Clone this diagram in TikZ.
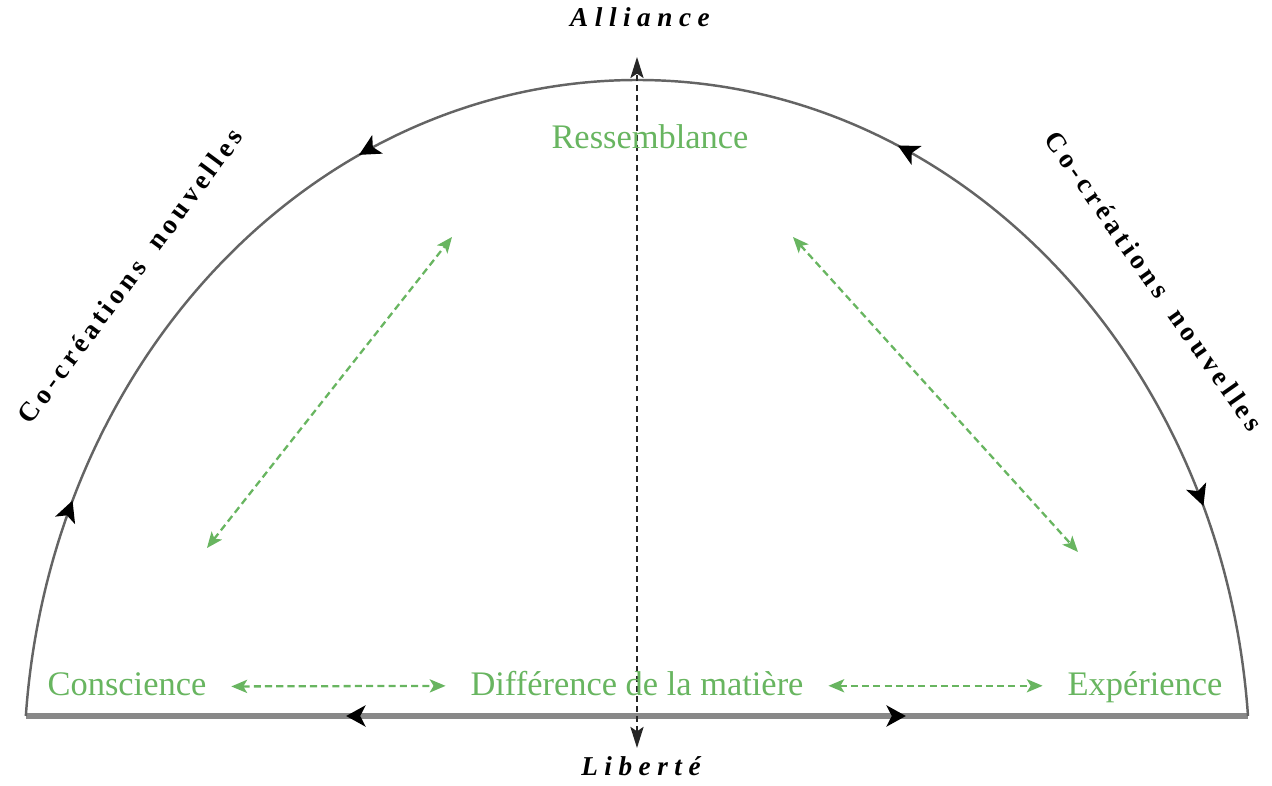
\documentclass[tikz,border=0pt]{standalone}
\usepackage{fontspec}
\setmainfont{Liberation Serif}
\newfontfamily\polefont[LetterSpace=24]{Liberation Serif}
\newfontfamily\cocrfont[LetterSpace=16,WordSpace=1.8]{Liberation Serif}
\usetikzlibrary{arrows.meta,decorations.markings}
\definecolor{cGreen}{RGB}{104,181,96}
\definecolor{cArc}  {RGB}{100,100,100}
\definecolor{cBase} {RGB}{136,136,136}
\tikzset{
  lbl/.style={text=cGreen,font=\fontsize{19.6}{22}\selectfont,inner sep=0pt,anchor=base},
  pole/.style={font=\polefont\bfseries\itshape\fontsize{15.5}{18}\selectfont,inner sep=0pt,anchor=base},
  cocr/.style={font=\cocrfont\bfseries\fontsize{15.5}{18}\selectfont,inner sep=0pt},
  arcl/.style={cArc,line width=1.4pt},
  basel/.style={cBase,line width=3.6pt},
  axis/.style={black!85,line width=1.1pt,dash pattern=on 3.4pt off 2.3pt,
               {Stealth[length=12pt,width=7.5pt,inset=2.5pt]}-{Stealth[length=12pt,width=7.5pt,inset=2.5pt]}},
  garr/.style={cGreen,line width=1.3pt,dash pattern=on 4pt off 2.4pt,
               {Stealth[length=9pt,width=7.5pt,inset=2.2pt]}-{Stealth[length=9pt,width=7.5pt,inset=2.2pt]}},
}

\begin{document}
\begin{tikzpicture}[x=0.02cm,y=0.02cm]
  \useasboundingbox (0,0) rectangle (1272,786);
  % half ellipse over the base
  \coordinate (bl) at (26,70);
  \coordinate (br) at (1248,70);
  \draw[basel,postaction={decorate},decoration={markings,
      mark=at position 0.262 with {\arrowreversed[black]{Stealth[length=11pt,width=12pt,inset=3pt]}},
      mark=at position 0.72 with {\arrow[black]{Stealth[length=11pt,width=12pt,inset=3pt]}}}]
    (bl) -- (br);
  \draw[arcl,postaction={decorate},decoration={markings,
      mark=at position 0.111 with {\arrowreversed[black]{Stealth[length=12pt,width=12pt,inset=3pt]}},
      mark=at position 0.36 with {\arrow[black]{Stealth[length=12pt,width=12pt,inset=3pt]}},
      mark=at position 0.65 with {\arrow[black]{Stealth[length=12pt,width=12pt,inset=3pt]}},
      mark=at position 0.886 with {\arrowreversed[black]{Stealth[length=12pt,width=12pt,inset=3pt]}}}]
    (br) arc[start angle=4.49,end angle=175.51,x radius=613,y radius=690];
  % poles
  \node[pole] (all) at (640,759) {Alliance};
  \node[pole] (lib) at (641,10) {Liberté};
  \coordinate (axt) at (637,729);
  \coordinate (axb) at (637,38);
  \draw[axis] (axb) -- (axt);
  % side texts
  \node[cocr,rotate=53.5]  (cocl) at (130,510) {Co-créations nouvelles};
  \node[cocr,rotate=-54.9] (cocr) at (1154,505) {Co-créations nouvelles};
  % green labels
  \node[lbl] (ress) at (650,637) {Ressemblance};
  \node[lbl] (cons) at (127,90)  {Conscience};
  \node[lbl] (diff) at (637,90)  {Différence de la matière};
  \node[lbl] (expe) at (1145,90) {Expérience};
  \coordinate (dl1) at (207,238);
  \coordinate (dl2) at (452,549);
  \coordinate (dr1) at (793,549);
  \coordinate (dr2) at (1078,234);
  \draw[garr] (dl1) -- (dl2);
  \draw[garr] (dr1) -- (dr2);
  \draw[garr,shorten <=14pt,shorten >=14pt] ([yshift=-1pt]cons.east) -- ([yshift=-1pt]diff.west);
  \draw[garr,shorten <=14pt,shorten >=14pt] ([yshift=-1pt]diff.east) -- ([yshift=-1pt]diff.east -| expe.west);
\end{tikzpicture}
\end{document}
